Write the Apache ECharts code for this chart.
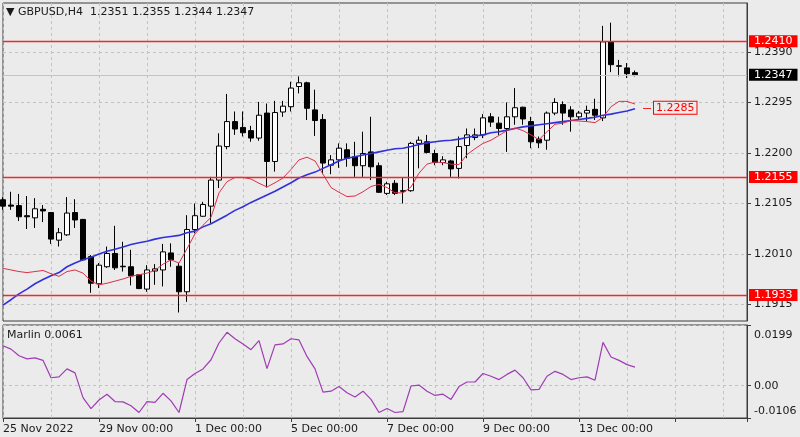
<!DOCTYPE html>
<html><head><meta charset="utf-8">
<script src="https://cdn.jsdelivr.net/npm/echarts@6/dist/echarts.min.js"></script>
<style>html,body{margin:0;padding:0;background:#ebebeb}#c{width:800px;height:437px}</style>
</head><body><div id="c"></div>
<script>
const tickLabels = ['25 Nov 2022','29 Nov 00:00','1 Dec 00:00','5 Dec 00:00','7 Dec 00:00','9 Dec 00:00','13 Dec 00:00'];
const opens = [1.2112,1.2102,1.2101,1.2082,1.2078,1.2094,1.2088,1.2036,1.2046,1.2088,
1.2075,1.2005,1.1954,1.1986,1.2011,1.1987,1.1986,1.1971,1.1944,1.1978,
1.1980,1.2012,1.1987,1.1939,1.2056,1.2081,1.2100,1.2149,1.2212,1.2259,
1.2248,1.2242,1.2228,1.2275,1.2184,1.2277,1.2287,1.2325,1.2332,1.2281,
1.2263,1.2177,1.2187,1.2206,1.2193,1.2176,1.2202,1.2176,1.2124,1.2143,
1.2129,1.2129,1.2218,1.2221,1.2199,1.2182,1.2185,1.2171,1.2214,1.2229,
1.2234,1.2268,1.2256,1.2246,1.2268,1.2286,1.2259,1.2226,1.2224,1.2275,
1.2291,1.2281,1.2268,1.2275,1.2282,1.2266,1.2409,1.2364,1.2360,1.2351];
const closes = [1.2100,1.2100,1.2080,1.2080,1.2095,1.2091,1.2038,1.2050,1.2087,1.2074,
1.1999,1.1955,1.1989,1.2011,1.1984,1.1986,1.1969,1.1945,1.1980,1.1982,
1.2014,1.1999,1.1939,1.2056,1.2082,1.2103,1.2149,1.2213,1.2259,1.2245,
1.2238,1.2228,1.2271,1.2184,1.2276,1.2288,1.2322,1.2332,1.2284,1.2261,
1.2181,1.2187,1.2209,1.2190,1.2176,1.2199,1.2174,1.2126,1.2142,1.2124,
1.2128,1.2218,1.2224,1.2201,1.2182,1.2187,1.2170,1.2212,1.2234,1.2234,
1.2266,1.2258,1.2246,1.2268,1.2285,1.2264,1.2221,1.2219,1.2275,1.2295,
1.2275,1.2268,1.2275,1.2280,1.2271,1.2409,1.2366,1.2363,1.2349,1.2347];
const lows = [1.2093,1.2093,1.2072,1.2057,1.2059,1.2070,1.2029,1.2024,1.2044,1.2059,
1.1997,1.1937,1.1946,1.1984,1.1980,1.1977,1.1951,1.1944,1.1939,1.1952,
1.1949,1.1986,1.1900,1.1920,1.2049,1.2080,1.2068,1.2134,1.2207,1.2234,
1.2231,1.2221,1.2223,1.2135,1.2165,1.2268,1.2278,1.2312,1.2262,1.2232,
1.2160,1.2160,1.2172,1.2174,1.2155,1.2155,1.2149,1.2125,1.2121,1.2121,
1.2105,1.2127,1.2171,1.2199,1.2177,1.2177,1.2155,1.2152,1.2190,1.2224,
1.2228,1.2249,1.2234,1.2202,1.2253,1.2253,1.2209,1.2209,1.2206,1.2271,
1.2253,1.2240,1.2262,1.2260,1.2262,1.2260,1.2352,1.2344,1.2341,1.2344];
const highs = [1.2117,1.2127,1.2123,1.2119,1.2115,1.2102,1.2089,1.2059,1.2117,1.2113,
1.2076,1.2008,1.1993,1.2024,1.2063,1.2033,1.2018,1.1972,1.1989,1.1991,
1.2029,1.2030,1.1993,1.2083,1.2105,1.2108,1.2155,1.2237,1.2311,1.2278,
1.2278,1.2251,1.2296,1.2293,1.2298,1.2298,1.2334,1.2344,1.2334,1.2319,
1.2273,1.2196,1.2218,1.2218,1.2221,1.2240,1.2268,1.2182,1.2146,1.2149,
1.2154,1.2221,1.2231,1.2234,1.2206,1.2194,1.2187,1.2231,1.2246,1.2246,
1.2273,1.2275,1.2268,1.2295,1.2322,1.2287,1.2268,1.2231,1.2278,1.2303,
1.2297,1.2288,1.2279,1.2289,1.2302,1.2439,1.2445,1.2375,1.2369,1.2355];
const maBlue = [1.1914,1.1924,1.1935,1.1944,1.1954,1.1962,1.1969,1.1975,1.1986,1.1993,
1.1999,1.2004,1.2010,1.2015,1.2019,1.2023,1.2028,1.2031,1.2034,1.2038,
1.2041,1.2043,1.2045,1.2050,1.2053,1.2061,1.2067,1.2075,1.2083,1.2092,
1.2099,1.2107,1.2114,1.2121,1.2128,1.2136,1.2144,1.2153,1.2159,1.2164,
1.2171,1.2178,1.2185,1.2190,1.2193,1.2196,1.2199,1.2202,1.2205,1.2208,
1.2209,1.2212,1.2216,1.2219,1.2221,1.2223,1.2224,1.2226,1.2229,1.2232,
1.2234,1.2238,1.2240,1.2243,1.2246,1.2249,1.2251,1.2253,1.2255,1.2257,
1.2259,1.2261,1.2263,1.2265,1.2267,1.2271,1.2273,1.2276,1.2279,1.2283];
const maRed = [1.1983,1.1980,1.1977,1.1975,1.1977,1.1979,1.1973,1.1968,1.1977,1.1980,
1.1974,1.1959,1.1952,1.1955,1.1959,1.1963,1.1968,1.1971,1.1974,1.1979,
1.1991,1.1999,1.1993,1.2020,1.2048,1.2064,1.2079,1.2125,1.2146,1.2154,
1.2154,1.2151,1.2143,1.2136,1.2144,1.2153,1.2169,1.2187,1.2192,1.2185,
1.2160,1.2135,1.2126,1.2118,1.2119,1.2127,1.2137,1.2141,1.2135,1.2125,
1.2125,1.2136,1.2162,1.2179,1.2183,1.2182,1.2179,1.2178,1.2197,1.2208,
1.2218,1.2224,1.2233,1.2242,1.2247,1.2242,1.2234,1.2225,1.2240,1.2254,
1.2256,1.2261,1.2260,1.2259,1.2257,1.2267,1.2287,1.2297,1.2297,1.2292];
const marlin = [0.0131,0.0120,0.0098,0.0088,0.0091,0.0083,0.0026,0.0029,0.0055,0.0042,
-0.0039,-0.0075,-0.0047,-0.0028,-0.0052,-0.0053,-0.0066,-0.0088,-0.0052,-0.0055,
-0.0025,-0.0050,-0.0088,0.0020,0.0040,0.0055,0.0085,0.0140,0.0175,0.0154,
0.0137,0.0118,0.0148,0.0056,0.0134,0.0137,0.0154,0.0150,0.0096,0.0055,
-0.0021,-0.0018,-0.0003,-0.0023,-0.0037,-0.0018,-0.0045,-0.0088,-0.0075,-0.0088,
-0.0085,-0.0001,0.0002,-0.0018,-0.0032,-0.0028,-0.0045,-0.0003,0.0012,0.0012,
0.0040,0.0031,0.0020,0.0037,0.0051,0.0026,-0.0014,-0.0012,0.0031,0.0047,
0.0037,0.0020,0.0026,0.0029,0.0018,0.0142,0.0094,0.0083,0.0069,0.0061];
const priceTicks = [1.1915,1.2010,1.2105,1.2200,1.2295,1.2390];
const marlinTicks = [-0.0106,0,0.0199];
const levels = [1.2410,1.2155,1.1933];
const lastPrice = 1.2347;
const maLabel = 1.2285;
const priceMin = 1.1884, priceMax = 1.2482;
const slots = 94;

const categories = [];
for (let i = 0; i < slots; i++) categories.push(i % 12 === 0 && tickLabels[i / 12] ? tickLabels[i / 12] : '');
const candles = opens.map((o, i) => [o, closes[i], lows[i], highs[i]]);

const FONT = 'DejaVu Sans';
const TXT = '#1a1a1a';
const FRAME = '#3c3c3c';
const GRIDC = '#c2c2c2';
const chart = echarts.init(document.getElementById('c'), null, {renderer: 'canvas'});
const vSplit = {show: true, interval: 5, lineStyle: {color: GRIDC, type: [3, 3], width: 1}};
const boxLabel = (txt, bg) => ({show: true, position: 'end', distance: 2, formatter: txt, backgroundColor: bg, color: '#ffffff', padding: [1, 5, 0, 5], fontSize: 11, fontFamily: FONT});
chart.setOption({
  backgroundColor: '#ebebeb',
  animation: false,
  textStyle: {fontFamily: FONT},
  title: [
    {text: '▼ GBPUSD,H4  1.2351 1.2355 1.2344 1.2347', left: 6, top: 7, padding: 0, textStyle: {fontSize: 11, fontWeight: 'normal', color: TXT, fontFamily: FONT}},
    {text: 'Marlin 0.0061', left: 7, top: 330, padding: 0, textStyle: {fontSize: 11, fontWeight: 'normal', color: TXT, fontFamily: FONT}}
  ],
  grid: [
    {left: 3, right: 53, top: 3, height: 318, show: true, borderColor: FRAME, borderWidth: 1},
    {left: 3, right: 53, top: 325, height: 93, show: true, borderColor: FRAME, borderWidth: 1}
  ],
  xAxis: [
    {type: 'category', gridIndex: 0, data: categories, boundaryGap: false, axisLine: {show: false}, axisTick: {show: false}, axisLabel: {show: false}, splitLine: vSplit},
    {type: 'category', gridIndex: 1, data: categories, boundaryGap: false,
     axisLine: {show: true, onZero: false, lineStyle: {color: FRAME}},
     axisTick: {show: true, interval: 11, length: 4, lineStyle: {color: FRAME}},
     axisLabel: {show: true, interval: 0, align: 'left', margin: 6, fontSize: 11, color: TXT, fontFamily: FONT},
     splitLine: vSplit}
  ],
  yAxis: [
    {type: 'value', gridIndex: 0, position: 'right', min: priceMin, max: priceMax,
     axisLine: {show: true, lineStyle: {color: FRAME}},
     axisTick: {show: true, length: 4, customValues: priceTicks, lineStyle: {color: FRAME}},
     axisLabel: {customValues: priceTicks, formatter: v => v.toFixed(4), margin: 7, fontSize: 11, color: TXT, fontFamily: FONT},
     splitLine: {show: true, lineStyle: {color: GRIDC, type: [3, 3], width: 1}}},
    {type: 'value', gridIndex: 1, position: 'right', min: marlinTicks[0], max: marlinTicks[2],
     axisLine: {show: true, lineStyle: {color: FRAME}},
     axisTick: {show: true, length: 4, customValues: marlinTicks, lineStyle: {color: FRAME}},
     axisLabel: {customValues: marlinTicks, margin: 7, fontSize: 11, color: TXT, fontFamily: FONT,
       formatter: v => v > 0.001 ? '{t|' + v.toFixed(4) + '}' : (v < -0.001 ? '{b|' + v.toFixed(4) + '}' : '0.00'),
       rich: {t: {padding: [20, 0, 0, 0], fontSize: 11, color: TXT, fontFamily: FONT}, b: {padding: [0, 0, 14, 0], fontSize: 11, color: TXT, fontFamily: FONT}}},
     splitLine: {show: true, lineStyle: {color: GRIDC, type: [3, 3], width: 1}}}
  ],
  series: [
    {type: 'candlestick', xAxisIndex: 0, yAxisIndex: 0, data: candles, barWidth: 5, clip: false,
     itemStyle: {color: '#ffffff', color0: '#000000', borderColor: '#000000', borderColor0: '#000000', borderColorDoji: '#000000', borderWidth: 1},
     markLine: {symbol: ['none', 'none'], silent: true, animation: false, precision: 4,
       data: [
         ...levels.map(v => ({yAxis: v, lineStyle: {color: '#f02a2a', width: 1.3, type: 'solid'}, label: boxLabel(v.toFixed(4), '#ff0000')})),
         {yAxis: lastPrice, lineStyle: {color: '#c4c4c4', width: 1, type: 'solid'}, label: boxLabel(lastPrice.toFixed(4), '#000000')},
         [{coord: [80, maLabel], lineStyle: {color: '#f02a2a', width: 1, type: 'solid'},
           label: {show: true, position: 'end', distance: 3, formatter: maLabel.toFixed(4), color: '#ff0000', backgroundColor: '#ebebeb', borderColor: '#ff0000', borderWidth: 1, padding: [1, 2, 0, 2], fontSize: 11, fontFamily: FONT}},
          {coord: [81, maLabel]}]
       ]}},
    {type: 'line', xAxisIndex: 0, yAxisIndex: 0, data: maBlue, symbol: 'none', silent: true, lineStyle: {color: '#3030dc', width: 1.6}},
    {type: 'line', xAxisIndex: 0, yAxisIndex: 0, data: maRed, symbol: 'none', silent: true, lineStyle: {color: '#dc3048', width: 1}},
    {type: 'line', xAxisIndex: 1, yAxisIndex: 1, data: marlin, symbol: 'none', silent: true, lineStyle: {color: '#a03cb4', width: 1.2}}
  ]
});
</script></body></html>
